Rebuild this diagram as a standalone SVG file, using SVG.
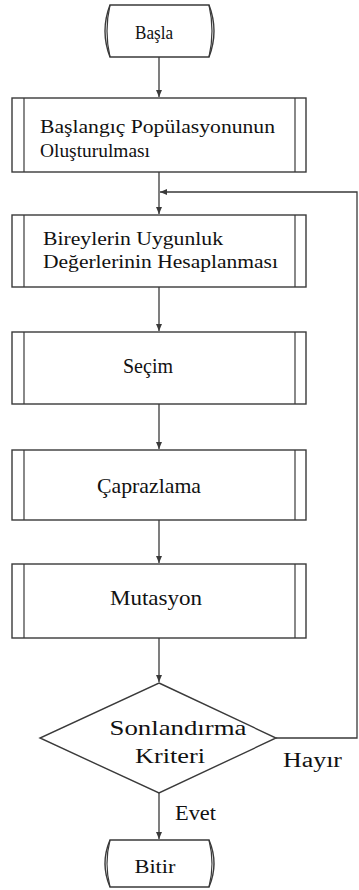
<svg xmlns="http://www.w3.org/2000/svg" width="359" height="890" viewBox="0 0 359 890">
<style>
.sh{fill:#fff;stroke:#3a3a3a;stroke-width:1.4}
.in{fill:none;stroke:#3a3a3a;stroke-width:1.2}
.cn{fill:none;stroke:#3a3a3a;stroke-width:1.3}
.tx{font-family:Liberation Serif,Tinos,DejaVu Serif,Times New Roman,Times,serif;fill:#111}
.t18{font-size:18px}
.t21{font-size:21px}
</style>
<defs>
<marker id="ah" markerWidth="8" markerHeight="8" refX="7" refY="4" orient="auto" markerUnits="userSpaceOnUse">
<path d="M0,1 L7,4 L0,7 Z" fill="#3a3a3a"/>
</marker>
</defs>
<rect width="359" height="890" fill="#fff"/>
<g id="connectors">
<line class="cn" x1="159" y1="57" x2="159" y2="97" marker-end="url(#ah)"/>
<line class="cn" x1="159" y1="172" x2="159" y2="214" marker-end="url(#ah)"/>
<line class="cn" x1="159" y1="287" x2="159" y2="331" marker-end="url(#ah)"/>
<line class="cn" x1="159" y1="404" x2="159" y2="449" marker-end="url(#ah)"/>
<line class="cn" x1="159" y1="520" x2="159" y2="563" marker-end="url(#ah)"/>
<line class="cn" x1="159" y1="638" x2="159" y2="682" marker-end="url(#ah)"/>
<line class="cn" x1="159" y1="793" x2="159" y2="839" marker-end="url(#ah)"/>
<polyline class="cn" points="276,738 357,738 357,192 160,192" marker-end="url(#ah)"/>
<text class="tx" x="283" y="767" font-size="20" textLength="59" lengthAdjust="spacingAndGlyphs">Hayır</text>
<text class="tx" x="175" y="820" font-size="20" textLength="41" lengthAdjust="spacingAndGlyphs">Evet</text>
</g>
<g id="start">
<path class="sh" d="M110,5 L209,5 Q219,31 209,57 L110,57 Q100,31 110,5 Z"/>
<path class="in" d="M110,5 Q104,31 110,57 M209,5 Q215,31 209,57"/>
<text class="tx" x="154" y="39" text-anchor="middle" font-size="19" textLength="38" lengthAdjust="spacingAndGlyphs">Başla</text>
</g>
<g id="init">
<rect class="sh" x="12" y="98" width="294" height="74"/>
<line class="in" x1="24" y1="98" x2="24" y2="172"/>
<line class="in" x1="295" y1="98" x2="295" y2="172"/>
<text class="tx t18" x="40" y="133" textLength="235" lengthAdjust="spacingAndGlyphs">Başlangıç Popülasyonunun</text>
<text class="tx t18" x="40" y="157" textLength="110" lengthAdjust="spacingAndGlyphs">Oluşturulması</text>
</g>
<g id="fitness">
<rect class="sh" x="12" y="215" width="294" height="72"/>
<line class="in" x1="24" y1="215" x2="24" y2="287"/>
<line class="in" x1="295" y1="215" x2="295" y2="287"/>
<text class="tx t18" x="43" y="245" textLength="180" lengthAdjust="spacingAndGlyphs">Bireylerin Uygunluk</text>
<text class="tx t18" x="43" y="268" textLength="235" lengthAdjust="spacingAndGlyphs">Değerlerinin Hesaplanması</text>
</g>
<g id="selection">
<rect class="sh" x="12" y="332" width="294" height="72"/>
<line class="in" x1="24" y1="332" x2="24" y2="404"/>
<line class="in" x1="295" y1="332" x2="295" y2="404"/>
<text class="tx t21" x="148" y="373" text-anchor="middle" textLength="50" lengthAdjust="spacingAndGlyphs">Seçim</text>
</g>
<g id="crossover">
<rect class="sh" x="12" y="450" width="294" height="70"/>
<line class="in" x1="24" y1="450" x2="24" y2="520"/>
<line class="in" x1="295" y1="450" x2="295" y2="520"/>
<text class="tx t21" x="149" y="493" text-anchor="middle" textLength="104" lengthAdjust="spacingAndGlyphs">Çaprazlama</text>
</g>
<g id="mutation">
<rect class="sh" x="12" y="564" width="294" height="74"/>
<line class="in" x1="24" y1="564" x2="24" y2="638"/>
<line class="in" x1="295" y1="564" x2="295" y2="638"/>
<text class="tx t21" x="156" y="605" text-anchor="middle" textLength="92" lengthAdjust="spacingAndGlyphs">Mutasyon</text>
</g>
<g id="decision">
<polygon class="sh" points="159,683 276,738 159,793 40,738"/>
<text class="tx t21" x="178" y="735" text-anchor="middle" textLength="137" lengthAdjust="spacingAndGlyphs">Sonlandırma</text>
<text class="tx t21" x="170" y="763" text-anchor="middle" textLength="70" lengthAdjust="spacingAndGlyphs">Kriteri</text>
</g>
<g id="end">
<path class="sh" d="M110,840 L209,840 Q219,863.5 209,887 L110,887 Q100,863.5 110,840 Z"/>
<path class="in" d="M110,840 Q104,863.5 110,887 M209,840 Q215,863.5 209,887"/>
<text class="tx" x="155" y="873" text-anchor="middle" font-size="19" textLength="41" lengthAdjust="spacingAndGlyphs">Bitir</text>
</g>
</svg>
